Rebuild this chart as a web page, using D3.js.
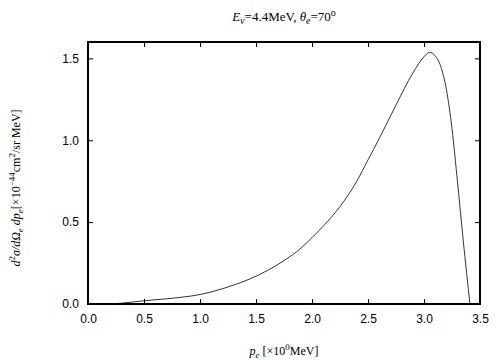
<!DOCTYPE html>
<html>
<head>
<meta charset="utf-8">
<script src="https://cdn.jsdelivr.net/npm/d3@7"></script>
<style>
  body { margin: 0; background: #fff; }
  .tick text { font-family: "Liberation Sans", Arial, sans-serif; font-size: 12px; fill: #000; }
  .lbl { font-family: "Liberation Serif", "Times New Roman", serif; font-size: 12px; fill: #000; }
</style>
</head>
<body>
<svg width="504" height="360"></svg>
<script>
// momentum p_e [MeV] and cross section values
var pe = [0.2, 0.3, 0.5, 0.75, 1.0, 1.25, 1.5, 1.75, 1.9, 2.0, 2.1, 2.25, 2.4, 2.5, 2.6, 2.75, 2.9, 3.0, 3.05, 3.1, 3.15, 3.2, 3.25, 3.3, 3.35, 3.41];
var xsec = [0, 0.005, 0.02, 0.035, 0.058, 0.104, 0.17, 0.265, 0.34, 0.405, 0.475, 0.595, 0.75, 0.88, 1.01, 1.215, 1.41, 1.51, 1.537, 1.515, 1.45, 1.31, 1.07, 0.74, 0.39, 0];
var xTicks = [0, 0.5, 1, 1.5, 2, 2.5, 3, 3.5];
var yTicks = [0, 0.5, 1, 1.5];

var svg = d3.select("svg");
var plotL = 88, plotR = 480, plotT = 42, plotB = 304;

var x = d3.scaleLinear().domain([0, 3.5]).range([plotL, plotR]);
var y = d3.scaleLinear().domain([0, 1.6]).range([plotB, plotT]);

var data = pe.map(function(d, i) { return [d, xsec[i]]; });

// axes with inward ticks
svg.append("g")
  .attr("transform", "translate(0," + plotB + ")")
  .call(d3.axisBottom(x).tickValues(xTicks).tickFormat(d3.format(".1f")).tickSizeInner(-5).tickSizeOuter(0).tickPadding(10))
  .call(function(g) { g.select(".domain").remove(); });

svg.append("g")
  .attr("transform", "translate(" + plotL + ",0)")
  .call(d3.axisLeft(y).tickValues(yTicks).tickFormat(d3.format(".1f")).tickSizeInner(-5).tickSizeOuter(0).tickPadding(9))
  .call(function(g) { g.select(".domain").remove(); });

svg.append("g")
  .attr("transform", "translate(0," + plotT + ")")
  .call(d3.axisTop(x).tickValues(xTicks).tickFormat("").tickSizeInner(-5).tickSizeOuter(0))
  .call(function(g) { g.select(".domain").remove(); });

svg.append("g")
  .attr("transform", "translate(" + plotR + ",0)")
  .call(d3.axisRight(y).tickValues(yTicks).tickFormat("").tickSizeInner(-5).tickSizeOuter(0))
  .call(function(g) { g.select(".domain").remove(); });

svg.selectAll(".tick line").attr("stroke", "#000");

// the curve
var line = d3.line()
  .x(function(d) { return x(d[0]); })
  .y(function(d) { return y(d[1]); })
  .curve(d3.curveMonotoneX);

svg.append("path")
  .datum(data)
  .attr("d", line)
  .attr("fill", "none")
  .attr("stroke", "#000")
  .attr("stroke-width", 0.8);

// frame
svg.append("rect")
  .attr("x", plotL).attr("y", plotT)
  .attr("width", plotR - plotL).attr("height", plotB - plotT)
  .attr("fill", "none").attr("stroke", "#000").attr("stroke-width", 2);

// title
var t = svg.append("text").attr("class", "lbl").style("font-size", "13px")
  .attr("x", 284).attr("y", 21).attr("text-anchor", "middle");
t.append("tspan").attr("font-style", "italic").text("E");
t.append("tspan").attr("font-style", "italic").attr("font-size", "10px").attr("dy", 3).text("ν");
t.append("tspan").attr("dy", -3).text("=4.4MeV,  ");
t.append("tspan").attr("font-style", "italic").text("θ");
t.append("tspan").attr("font-style", "italic").attr("font-size", "10px").attr("dy", 3).text("e");
t.append("tspan").attr("dy", -3).text("=70");
t.append("tspan").attr("font-size", "10px").attr("dy", -5).text("o");

// x label
var xl = svg.append("text").attr("class", "lbl")
  .attr("x", 284).attr("y", 355).attr("text-anchor", "middle");
xl.append("tspan").attr("font-style", "italic").text("p");
xl.append("tspan").attr("font-style", "italic").attr("font-size", "9px").attr("dy", 3).text("e");
xl.append("tspan").attr("dy", -3).text(" [×10");
xl.append("tspan").attr("font-size", "9px").attr("dy", -5).text("0");
xl.append("tspan").attr("dy", 5).text("MeV]");

// y label
var yl = svg.append("text").attr("class", "lbl")
  .attr("transform", "translate(20,188) rotate(-90)").attr("text-anchor", "middle");
yl.append("tspan").attr("font-style", "italic").text("d");
yl.append("tspan").attr("font-size", "9px").attr("dy", -5).text("2");
yl.append("tspan").attr("font-style", "italic").attr("dy", 5).text("σ/dΩ");
yl.append("tspan").attr("font-style", "italic").attr("font-size", "9px").attr("dy", 3).text("e");
yl.append("tspan").attr("font-style", "italic").attr("dy", -3).text(" dp");
yl.append("tspan").attr("font-style", "italic").attr("font-size", "9px").attr("dy", 3).text("e");
yl.append("tspan").attr("dy", -3).text("[×10");
yl.append("tspan").attr("font-size", "9px").attr("dy", -5).text("−44");
yl.append("tspan").attr("dy", 5).text("cm");
yl.append("tspan").attr("font-size", "9px").attr("dy", -5).text("2");
yl.append("tspan").attr("dy", 5).text("/sr MeV]");
</script>
</body>
</html>
